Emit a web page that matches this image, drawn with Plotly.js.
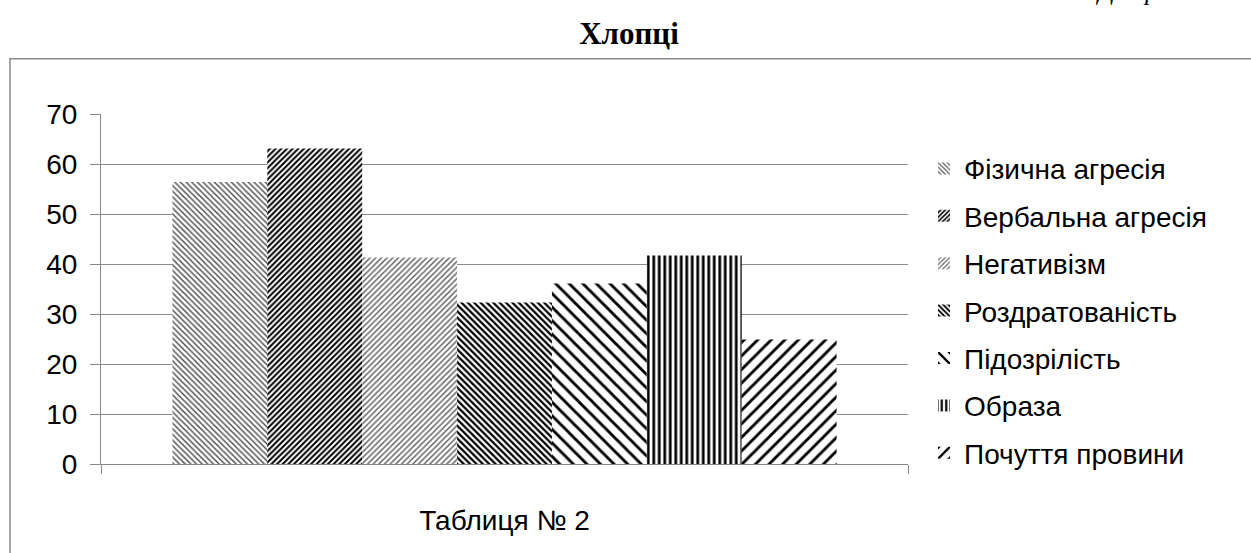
<!DOCTYPE html>
<html>
<head>
<meta charset="utf-8">
<script src="https://cdn.plot.ly/plotly-3.0.1.min.js"></script>
<style>html,body{margin:0;padding:0;background:#fff;}#chart{width:1251px;height:553px;}</style>
</head>
<body>
<div id="chart"></div>
<script>
const categories = ["Таблиця № 2"];
const seriesNames = ["Фізична агресія", "Вербальна агресія", "Негативізм", "Роздратованість", "Підозрілість", "Образа", "Почуття провини"];
const seriesValues = [56.4, 63.1, 41.3, 32.3, 36.1, 41.7, 24.9];
const yTicks = [0, 10, 20, 30, 40, 50, 60, 70];

const patterns = [
  {shape: "\\", size: 4, solidity: 0.35, fgcolor: "#4a4a4a"},
  {shape: "/", size: 4, solidity: 0.5, fgcolor: "#000000"},
  {shape: "/", size: 4, solidity: 0.35, fgcolor: "#5a5a5a"},
  {shape: "\\", size: 4.5, solidity: 0.5, fgcolor: "#000000"},
  {shape: "\\", size: 9.6, solidity: 0.3, fgcolor: "#000000"},
  {shape: "|", size: 5.5, solidity: 0.5, fgcolor: "#000000"},
  {shape: "/", size: 9.6, solidity: 0.3, fgcolor: "#000000"}
];

const traces = seriesNames.map((name, i) => ({
  type: "bar",
  name: name,
  x: categories,
  y: [seriesValues[i]],
  legendgroup: "g" + i,
  marker: {
    color: "#ffffff",
    line: {width: 0},
    pattern: Object.assign({bgcolor: "#ffffff", fillmode: "replace"}, patterns[i])
  },
  hoverinfo: "name+y"
}));

// plot area in pixels: x 101..908, y 114.3..464.3
const L = 101, R = 908, T = 114.3, B = 464.3;
const px = v => (v - L) / (R - L);
const py = v => (B - v) / (B - T);

const layout = {
  width: 1251,
  height: 553,
  margin: {l: L, r: 1251 - R, t: T, b: 553 - B},
  paper_bgcolor: "#ffffff",
  plot_bgcolor: "#ffffff",
  font: {family: "Liberation Sans, Arial, sans-serif", size: 28, color: "#000000"},
  title: {
    text: "Хлопці",
    font: {family: "Liberation Serif, Times New Roman, serif", size: 31, color: "#000000", weight: "bold"},
    x: 629 / 1251, xref: "container", xanchor: "center",
    y: 1 - 33 / 553, yref: "container", yanchor: "middle"
  },
  barmode: "group",
  bargap: 0.177,
  bargroupgap: 0,
  showlegend: true,
  legend: {
    x: px(924), xanchor: "left",
    y: py(144), yanchor: "top",
    font: {family: "Liberation Sans, Arial, sans-serif", size: 28, color: "#000000"},
    tracegroupgap: 8,
    bgcolor: "rgba(0,0,0,0)",
    borderwidth: 0
  },
  xaxis: {
    type: "category",
    tickson: "boundaries",
    ticks: "outside",
    ticklen: 9,
    tickcolor: "#888888",
    tickwidth: 1,
    showline: true,
    linecolor: "#888888",
    linewidth: 1,
    showgrid: false,
    ticklabelstandoff: 31,
    tickfont: {family: "Liberation Sans, Arial, sans-serif", size: 28, color: "#000000"},
    fixedrange: true
  },
  yaxis: {
    range: [0, 70],
    tickvals: yTicks,
    ticks: "outside",
    ticklen: 10,
    tickcolor: "#888888",
    tickwidth: 1,
    showline: true,
    linecolor: "#888888",
    linewidth: 1,
    showgrid: true,
    gridcolor: "#8c8c8c",
    gridwidth: 1,
    zeroline: false,
    ticklabelstandoff: 7,
    tickfont: {family: "Liberation Sans, Arial, sans-serif", size: 28, color: "#000000"},
    fixedrange: true
  },
  shapes: [
    {type: "rect", xref: "paper", yref: "paper", x0: px(10), x1: px(1270), y0: py(600), y1: py(59),
     line: {color: "#8a8a8a", width: 1.5}, fillcolor: "rgba(0,0,0,0)", layer: "below"}
  ],
  annotations: [
    {text: "Діаграма", xref: "paper", yref: "paper", x: px(1093), y: py(8), xanchor: "left", yanchor: "bottom",
     showarrow: false, font: {family: "Liberation Serif, Times New Roman, serif", size: 26, color: "#000000", style: "italic"}}
  ]
};

Plotly.newPlot("chart", traces, layout, {displayModeBar: false, staticPlot: true});
</script>
</body>
</html>
